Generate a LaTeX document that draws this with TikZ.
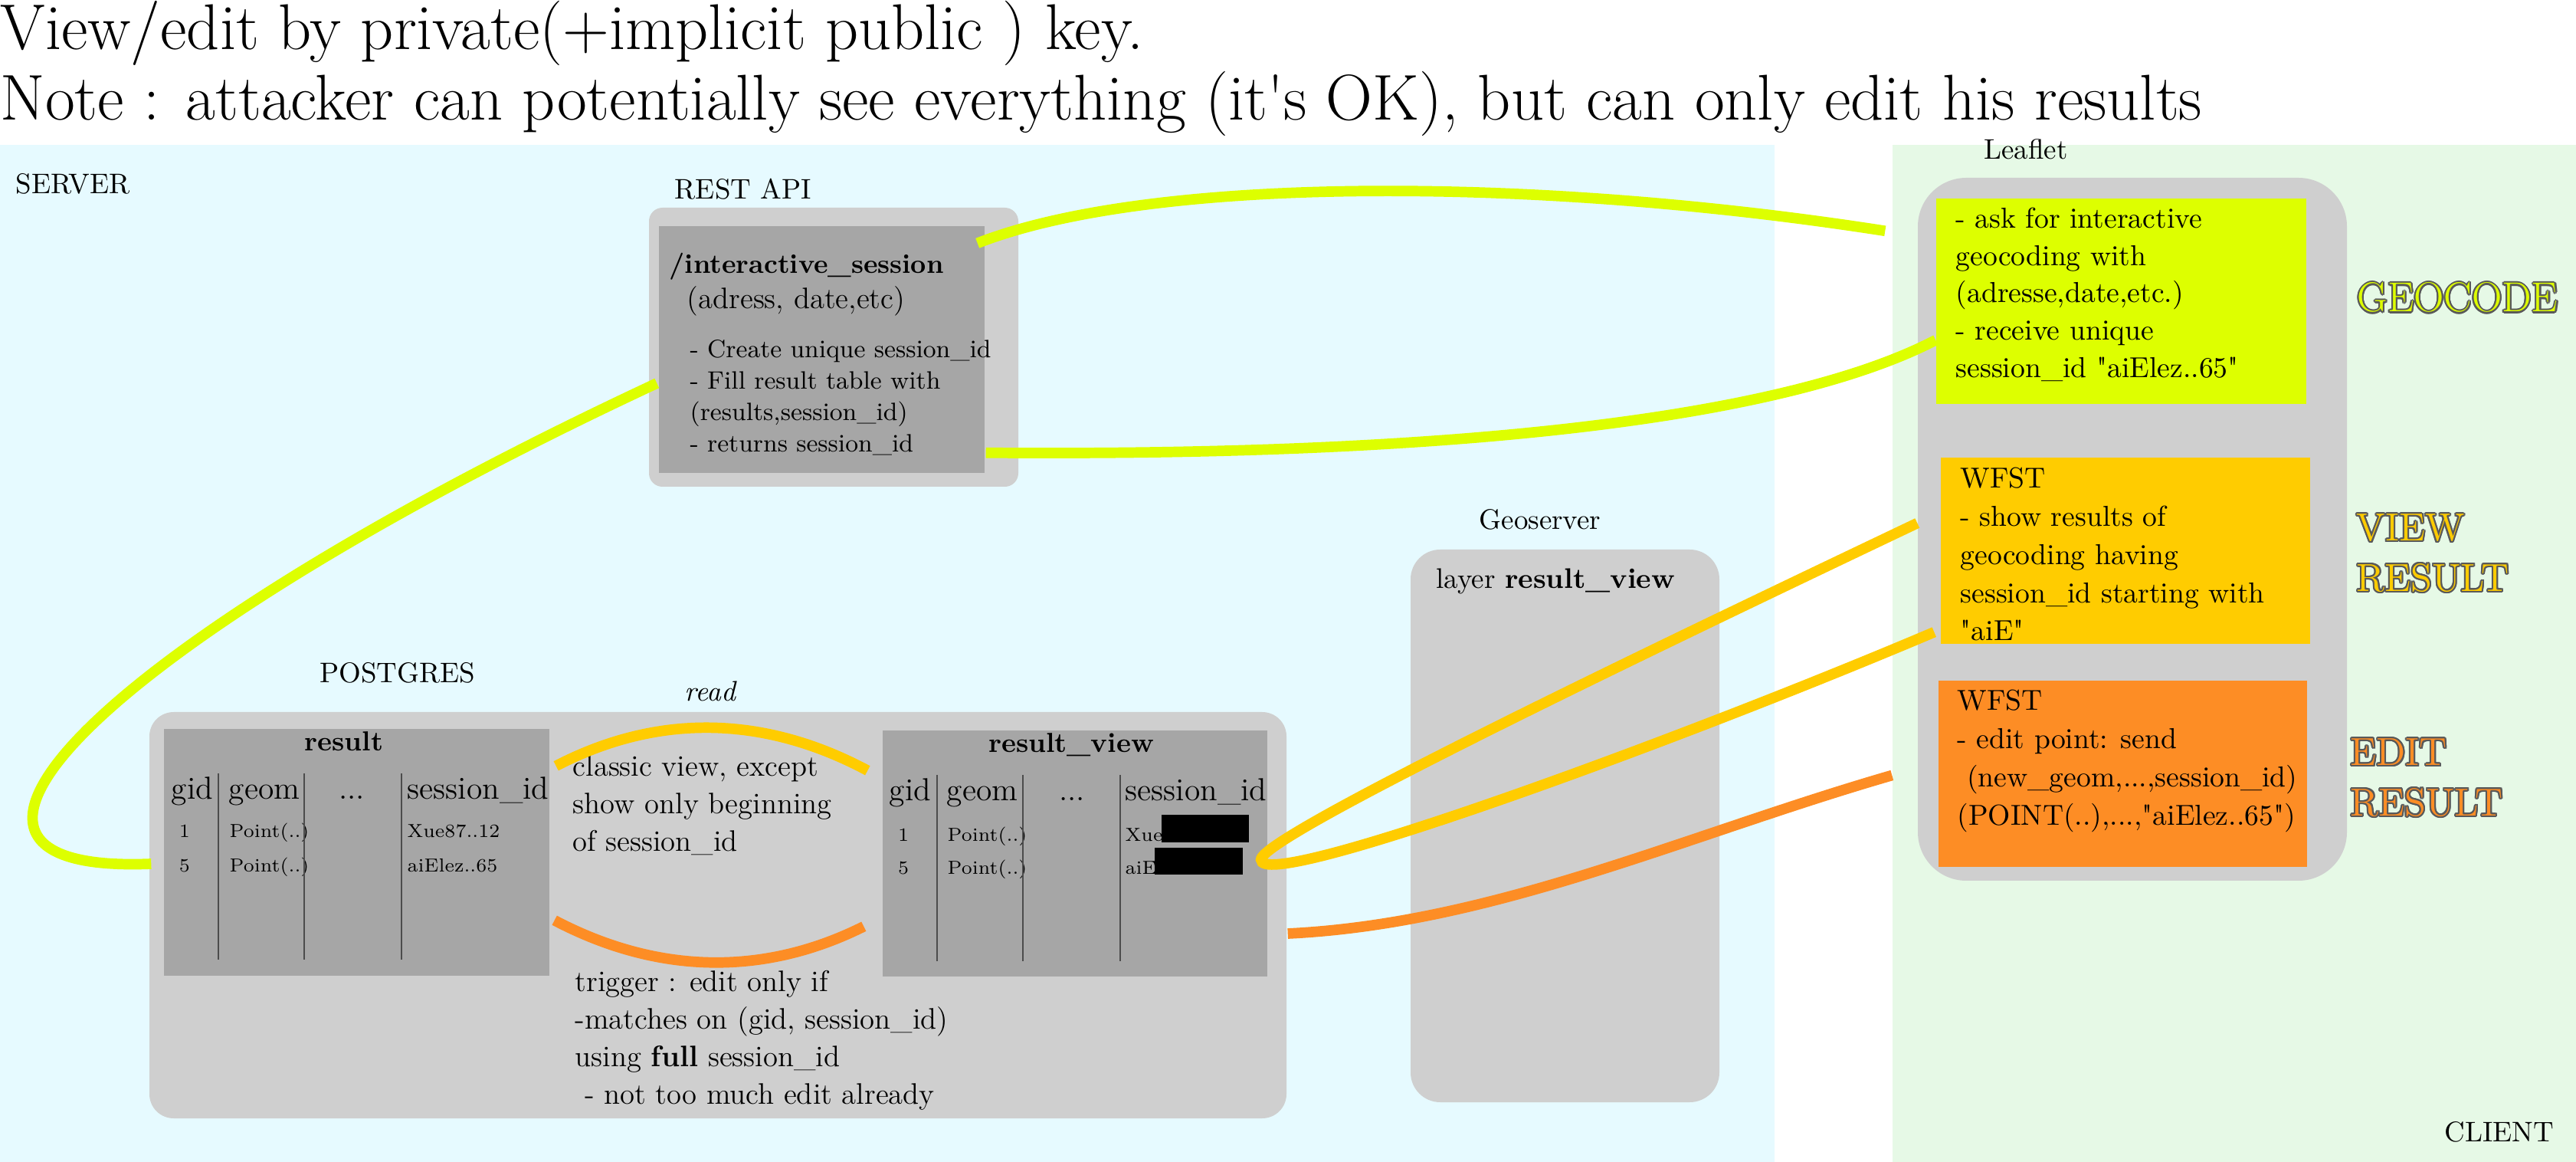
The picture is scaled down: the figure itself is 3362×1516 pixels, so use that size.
\documentclass[tikz,border=0pt]{standalone}
\usepackage{contour}
\usetikzlibrary{fit}

\definecolor{serverbg}{HTML}{E6FAFF}
\definecolor{clientbg}{HTML}{E6F9E6}
\definecolor{boxgray}{HTML}{CFCFCF}
\definecolor{tablegray}{HTML}{A6A6A6}
\definecolor{geoyellow}{HTML}{DDFF00}
\definecolor{viewyellow}{HTML}{FFCC00}
\definecolor{editorange}{HTML}{FD8D25}
\contourlength{0.6pt}

\newcommand{\fsz}[2]{\fontsize{#1}{#2}\selectfont}

\begin{document}
\begin{tikzpicture}[x=0.01cm, y=-0.01cm]
		\tikzstyle{area}=[inner sep=0]
		\tikzstyle{outer}=[fill=boxgray, inner sep=0]
		\tikzstyle{dbtable}=[fill=tablegray, inner sep=0]
		\tikzstyle{lab}=[inner sep=0, font=\fsz{10.5}{12.6}]
		\tikzstyle{txt}=[inner sep=0, anchor=north west, align=left]
		\tikzstyle{head}=[inner sep=0, anchor=base, font=\fsz{11.8}{14}]
		\tikzstyle{cell}=[inner sep=0, anchor=base west, font=\fsz{7}{8.4}]
		\tikzstyle{sep}=[black!70, line width=0.5pt]
		\tikzstyle{link}=[line width=3.9pt]

		\useasboundingbox (0,0) rectangle (3362,1516);

		\node[area, fill=serverbg, fit={(0,189) (2316,1516)}] (server) {};
		\node[area, fill=clientbg, fit={(2470,189) (3362,1516)}] (client) {};

		\node[txt, font=\fsz{24}{26}] (title) at (0,1) {View/edit by private(+implicit public ) key.\\Note : attacker can potentially see everything (it\textquotesingle s OK), but can only edit his results};

		\node[lab, anchor=west] (serverlab) at (20,240) {SERVER};
		\node[lab] (clientlab) at (3262,1477) {CLIENT};

		% rest api
		\node[lab, anchor=west] (restlab) at (880,247) {REST API};
		\node[outer, rounded corners=5pt, fit={(847,271) (1329,635)}] (restout) {};
		\node[dbtable, fit={(860,295) (1285,617)}] (restin) {};
		\node[anchor=base west, inner sep=0, font=\bfseries\fsz{10}{12}] (restpath) at (873,357) {/interactive\_session};
		\node[anchor=base west, inner sep=0, font=\fsz{11}{13}] (restargs) at (896,403) {(adress, date,etc)};
		\node[txt, font=\fsz{9.3}{11.6}] (restdo) at (900,443) {- Create unique session\_id\\- Fill result table with\\(results,session\_id)\\- returns session\_id};

		% postgres
		\node[lab] (pglab) at (519,878) {POSTGRES};
		\node[lab, font=\itshape\fsz{10.5}{12.6}] (readlab) at (927,902) {read};
		\node[outer, rounded corners=9pt, fit={(195,929) (1679,1459)}] (pg) {};
		\node[dbtable, fit={(214,951) (717,1273)}] (result) {};
		\node[dbtable, fit={(1152,953) (1654,1274)}] (resview) {};

		\node[anchor=base, inner sep=0, font=\bfseries\fsz{10.2}{12}] (resulttitle) at (449,980) {result};
		\node[head] (rgid) at (251,1043) {gid};
		\node[head] (rgeom) at (345,1043) {geom};
		\node[head] (rdots) at (459,1043) {...};
		\node[head, anchor=base west] (rsid) at (531,1043) {session\_id};
		\node[cell, anchor=base] (r1) at (241,1093) {1};
		\node[cell] (r1geom) at (299,1093) {Point(..)};
		\node[cell] (r1sid) at (531,1093) {Xue87..12};
		\node[cell, anchor=base] (r5) at (241,1138) {5};
		\node[cell] (r5geom) at (299,1138) {Point(..)};
		\node[cell] (r5sid) at (531,1138) {aiElez..65};
		\foreach \x in {285,397,524} \draw[sep] (\x,1009) -- (\x,1252);

		\node[anchor=base, inner sep=0, font=\bfseries\fsz{10.2}{12}] (viewtitle) at (1398,982) {result\_view};
		\node[head] (vgid) at (1188,1045) {gid};
		\node[head] (vgeom) at (1282,1045) {geom};
		\node[head] (vdots) at (1399,1045) {...};
		\node[head, anchor=base west] (vsid) at (1468,1045) {session\_id};
		\node[cell, anchor=base] (v1) at (1179,1097) {1};
		\node[cell] (v1geom) at (1236,1097) {Point(..)};
		\node[cell] (v1sid) at (1468,1097) {Xue};
		\node[cell, anchor=base] (v5) at (1179,1140) {5};
		\node[cell] (v5geom) at (1236,1140) {Point(..)};
		\node[cell] (v5sid) at (1468,1140) {aiE};
		\fill (1516,1063) rectangle (1630,1099);
		\fill (1507,1106) rectangle (1622,1141);
		\foreach \x in {1223,1335,1462} \draw[sep] (\x,1011) -- (\x,1254);

		\node[txt, font=\fsz{11}{13.9}] (viewdef) at (747,985) {classic view, except\\show only beginning\\of session\_id};
		\node[txt, font=\fsz{11}{13.9}] (trigger) at (750,1266) {trigger : edit only if\\-matches on (gid, session\_id)\\using \textbf{full} session\_id\\\ - not too much edit already};

		% geoserver
		\node[lab] (geolab) at (2010,678) {Geoserver};
		\node[outer, rounded corners=11pt, fit={(1841,717) (2244,1438)}] (geoserver) {};
		\node[anchor=base west, inner sep=0, font=\fsz{10.5}{12.6}] (layer) at (1874,768) {layer \textbf{result\_view}};

		% leaflet
		\node[lab] (leafletlab) at (2644,195) {Leaflet};
		\node[outer, rounded corners=18pt, fit={(2503,232) (3063,1149)}] (leaflet) {};
		\node[area, fill=geoyellow, fit={(2527,259) (3010,527)}] (geocode) {};
		\node[area, fill=viewyellow, fit={(2533,597) (3015,840)}] (wfsview) {};
		\node[area, fill=editorange, fit={(2530,888) (3011,1131)}] (wfsedit) {};
		\node[txt, font=\fsz{10.7}{13.9}] (geocodetxt) at (2552,270) {- ask for interactive\\geocoding with\\(adresse,date,etc.)\\- receive unique\\session\_id \textquotedbl aiElez..65\textquotedbl};
		\node[txt, font=\fsz{10.7}{14.2}] (viewtxt) at (2558,609) {WFST\\- show results of\\geocoding having\\session\_id starting with\\\textquotedbl aiE\textquotedbl};
		\node[txt, font=\fsz{10.7}{14.2}] (edittxt) at (2554,899) {WFST\\- edit point: send\\\ (new\_geom,...,session\_id)\\(POINT(..),...,\textquotedbl aiElez..65\textquotedbl)};

		\node[anchor=base west, inner sep=0, text=geoyellow, font=\fsz{15.5}{18}] (geocodelab) at (3076,407) {\contour{black!65}{GEOCODE}};
		\node[txt, text=viewyellow, font=\fsz{14.5}{18.7}] (viewlab) at (3075,670) {\contour{black!65}{VIEW}\\\contour{black!65}{RESULT}};
		\node[txt, text=editorange, font=\fsz{14.5}{18.7}] (editlab) at (3067,963) {\contour{black!65}{EDIT}\\\contour{black!65}{RESULT}};

		% links
		\draw[link, geoyellow] ([shift={(-10,23)}]restin.north east) .. controls +(225,-88) and +(-461,-72) .. ([shift={(-42,70)}]leaflet.north west);
		\draw[link, geoyellow] ([shift={(1,-27)}]restin.south east) .. controls +(614,5) and +(-197,102) .. ([shift={(0,-84)}]geocode.south west);
		\draw[link, geoyellow] ([shift={(11,47)}]restout.west) .. controls +(-708,330) and +(-370,15) .. ([shift={(3,-67)}]pg.west);

		\draw[link, viewyellow] ([shift={(8,49)}]result.north east) .. controls +(135,-70) and +(-133,-71) .. ([shift={(-19,53)}]resview.north west);
		\draw[link, editorange] ([shift={(6,-73)}]result.south east) .. controls +(137,72) and +(-128,64) .. ([shift={(-24,-66)}]resview.south west);

		\draw[link, viewyellow] ([shift={(0,-8)}]leaflet.west) .. controls +(-353,168) and +(0,-30) .. ([shift={(-9,8)}]resview.east) .. controls +(0,45) and +(-330,140) .. ([shift={(-8,-16)}]wfsview.south west);
		\draw[link, editorange] ([shift={(1,24)}]pg.east) .. controls +(270,-13) and +(-270,78) .. ([shift={(-60,2)}]wfsedit.west);
	\end{tikzpicture}
\end{document}
